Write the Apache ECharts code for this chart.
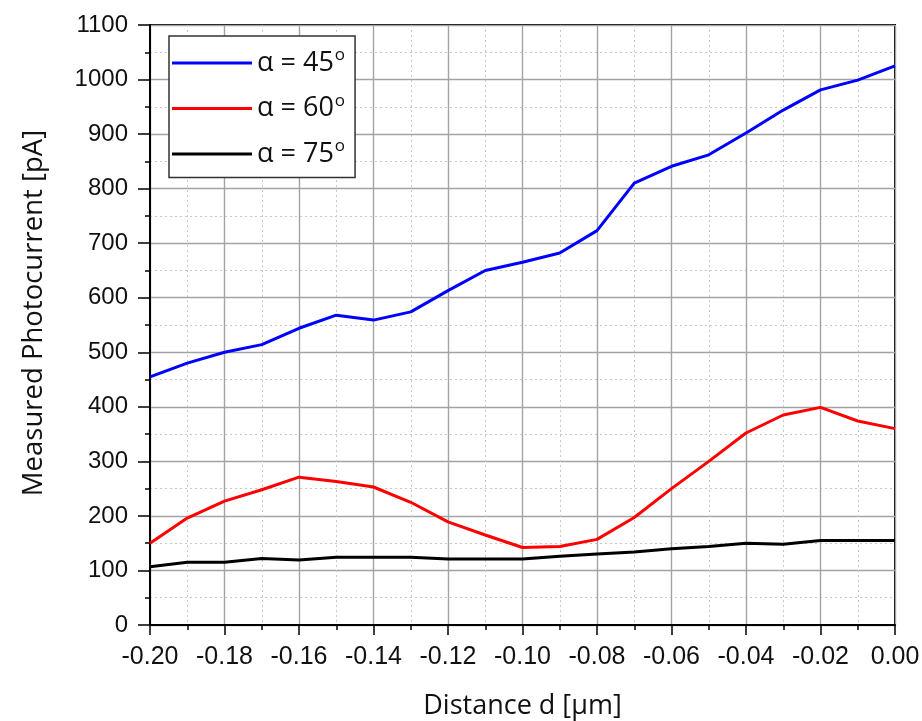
<!DOCTYPE html>
<html>
<head>
<meta charset="utf-8">
<script src="https://cdn.jsdelivr.net/npm/echarts@6/dist/echarts.min.js"></script>
<style>
  html, body { margin: 0; padding: 0; background: #fff; }
  #chart { width: 922px; height: 721px; }
</style>
</head>
<body>
<div id="chart"></div>
<script>
// Distance d in µm
const distance = [-0.20, -0.19, -0.18, -0.17, -0.16, -0.15, -0.14, -0.13, -0.12, -0.11, -0.10,
                  -0.09, -0.08, -0.07, -0.06, -0.05, -0.04, -0.03, -0.02, -0.01, 0.00];
// Measured photocurrent in pA for each incidence angle
const current45 = [455, 480, 500, 514, 544, 568, 559, 574, 613, 650, 665,
                   682, 723, 810, 841, 862, 902, 944, 981, 999, 1025];
const current60 = [150, 196, 227, 248, 271, 263, 253, 225, 189, 165, 142,
                   144, 157, 197, 250, 300, 352, 385, 399, 374, 360];
const current75 = [107, 115, 115, 122, 119, 124, 124, 124, 121, 121, 121,
                   126, 130, 134, 140, 144, 150, 148, 155, 155, 155];
const angleLabels = ['45', '60', '75'];
const seriesColors = ['#0000ff', '#ff0000', '#000000'];

const pairs = vals => distance.map((d, i) => [d, vals[i]]);
const allSeries = [current45, current60, current75].map((vals, k) => ({
  name: 'α = ' + angleLabels[k],
  type: 'line',
  data: pairs(vals),
  showSymbol: false,
  symbol: 'none',
  lineStyle: { color: seriesColors[k], width: 3 },
  itemStyle: { color: seriesColors[k] },
  z: 5
}));

const chart = echarts.init(document.getElementById('chart'), null, { renderer: 'canvas' });
const majorGrid = { show: true, lineStyle: { color: '#a3a3a3', width: 1.4, type: 'solid' } };
const minorGrid = { show: true, lineStyle: { color: '#c8c8c8', width: 1, type: [2, 3] } };

chart.setOption({
  animation: false,
  backgroundColor: '#ffffff',
  grid: {
    left: 150, right: 27, top: 25, bottom: 96,
    outerBoundsMode: 'none',
    containLabel: false,
    show: true, borderColor: '#000', borderWidth: 2, backgroundColor: 'transparent'
  },
  legend: {
    orient: 'vertical',
    left: 169, top: 36,
    width: 186,
    padding: [10, 10, 10, 3],
    itemGap: 15,
    itemWidth: 80,
    itemHeight: 3,
    backgroundColor: '#ffffff',
    borderColor: '#333',
    borderWidth: 1.5,
    borderRadius: 0,
    formatter: name => '{a|' + name + '}{s|o}',
    textStyle: {
      fontSize: 27,
      fontFamily: 'Open Sans',
      rich: {
        a: { fontFamily: 'Open Sans', fontSize: 27, color: '#111', lineHeight: 34 },
        s: { fontFamily: 'Open Sans', fontSize: 17, color: '#111', verticalAlign: 'top', lineHeight: 16, padding: [1, 0, 0, 1] }
      }
    },
    data: allSeries.map(s => ({ name: s.name, icon: 'rect' }))
  },
  xAxis: {
    type: 'value',
    min: -0.2, max: 0, interval: 0.02,
    minorTick: { show: true, splitNumber: 2, length: 5, lineStyle: { color: '#000', width: 1.5 } },
    axisLine: { show: true, onZero: false, lineStyle: { color: '#000', width: 2 } },
    axisTick: { show: true, inside: false, length: 10, lineStyle: { color: '#000', width: 1.5 } },
    axisLabel: {
      margin: 20, color: '#111', fontSize: 25,
      fontFamily: '"Liberation Sans Narrow", "Liberation Sans", Arial, sans-serif',
      formatter: v => (Math.abs(v) < 1e-9 ? 0 : v).toFixed(2)
    },
    splitLine: majorGrid,
    minorSplitLine: minorGrid,
    name: 'Distance d [μm]',
    nameLocation: 'middle',
    nameGap: 68,
    nameTextStyle: { fontFamily: 'Open Sans', fontSize: 27, color: '#111' }
  },
  yAxis: {
    type: 'value',
    min: 0, max: 1100, interval: 100,
    minorTick: { show: true, splitNumber: 2, length: 5, lineStyle: { color: '#000', width: 1.5 } },
    axisLine: { show: true, onZero: false, lineStyle: { color: '#000', width: 2 } },
    axisTick: { show: true, inside: false, length: 12, lineStyle: { color: '#000', width: 1.5 } },
    axisLabel: {
      margin: 22, color: '#111', fontSize: 24,
      fontFamily: '"Liberation Sans", Arial, sans-serif',
      formatter: v => String(v)
    },
    splitLine: majorGrid,
    minorSplitLine: minorGrid,
    name: 'Measured Photocurrent [pA]',
    nameLocation: 'middle',
    nameGap: 102,
    nameTextStyle: { fontFamily: 'Open Sans', fontSize: 27.5, color: '#111', padding: [0, 0, 0, 24] }
  },
  series: allSeries
});
</script>
</body>
</html>
